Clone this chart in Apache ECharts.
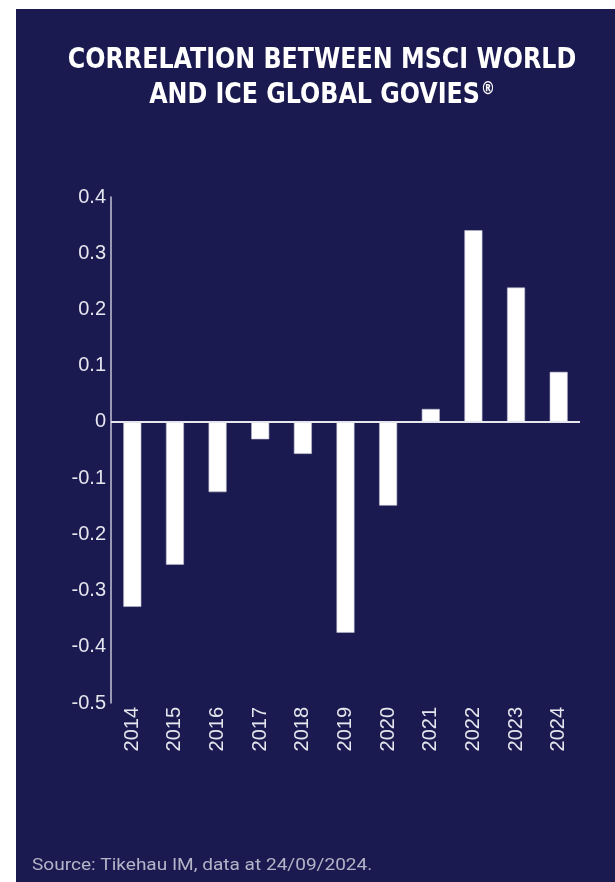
<!DOCTYPE html>
<html>
<head>
<meta charset="utf-8">
<script src="https://cdn.jsdelivr.net/npm/echarts@6/dist/echarts.min.js"></script>
<style>
html,body{margin:0;padding:0;background:#fff;}
#c{width:615px;height:882px;}
</style>
</head>
<body>
<div id="c"></div>
<script>
const categories = ['2014','2015','2016','2017','2018','2019','2020','2021','2022','2023','2024'];
const correlation = [-0.329, -0.254, -0.125, -0.031, -0.057, -0.375, -0.149, 0.023, 0.341, 0.239, 0.089];
const yMin = -0.5, yMax = 0.4, yStep = 0.1;
const titleLine1 = 'CORRELATION BETWEEN MSCI WORLD';
const titleLine2 = 'AND ICE GLOBAL GOVIES';
const titleMark = '\u00AE';
const sourceText = 'Source: Tikehau IM, data at 24/09/2024.';

const navy = '#1b1a50';
const titleFont = 'bold 29px "DejaVu Sans Condensed", "Liberation Sans Narrow", sans-serif';
const chart = echarts.init(document.getElementById('c'));
chart.setOption({
  backgroundColor: '#ffffff',
  animation: false,
  graphic: [
    {type:'rect', shape:{x:16, y:9, width:599, height:873}, style:{fill:navy}, z:-10},
    {type:'text', x:322, y:46, scaleX:0.912, style:{
      text: titleLine1, fill:'#ffffff', align:'center', verticalAlign:'top',
      font: titleFont}},
    {type:'text', x:322, y:81, scaleX:0.912, style:{
      text: titleLine2 + '{sup|' + titleMark + '}', fill:'#ffffff', align:'center', verticalAlign:'top',
      font: titleFont,
      rich:{sup:{fontSize:17, fontWeight:'bold', fontFamily:'"DejaVu Sans Condensed", sans-serif',
        fill:'#ffffff', verticalAlign:'top', padding:[0,0,12,1]}}}},
    {type:'text', x:32, y:858, scaleX:1.19, style:{
      text: sourceText, fill:'#b4b4c8', verticalAlign:'top',
      font:'16px "Roboto", "Liberation Sans", sans-serif'}}
  ],
  grid: {left:111, right:35, top:197, bottom:179, containLabel:false},
  xAxis: {
    type:'category', data: categories,
    axisLine:{show:false, onZero:false},
    axisTick:{show:false},
    axisLabel:{rotate:90, color:'#e6e6ee', fontSize:20, margin:4,
      fontFamily:'"Liberation Sans", Arial, sans-serif'}
  },
  yAxis: {
    type:'value', min:yMin, max:yMax, interval:yStep,
    splitLine:{show:false},
    axisTick:{show:false},
    axisLine:{show:true, lineStyle:{color:'#c4c4d4', width:1.5}},
    axisLabel:{color:'#e6e6ee', fontSize:20, margin:5,
      fontFamily:'"Liberation Sans", Arial, sans-serif',
      formatter: v => { const r = Math.round(v*10)/10; return r === 0 ? '0' : r.toFixed(1); }}
  },
  series: [{
    type:'bar', data: correlation, barWidth:18,
    itemStyle:{color:'#ffffff', borderColor:'#b8b8cc', borderWidth:0.6},
    markLine:{silent:true, symbol:'none', label:{show:false},
      lineStyle:{color:'#e6e6ee', type:'solid', width:2},
      data:[{yAxis:0}]}
  }]
});
</script>
</body>
</html>
